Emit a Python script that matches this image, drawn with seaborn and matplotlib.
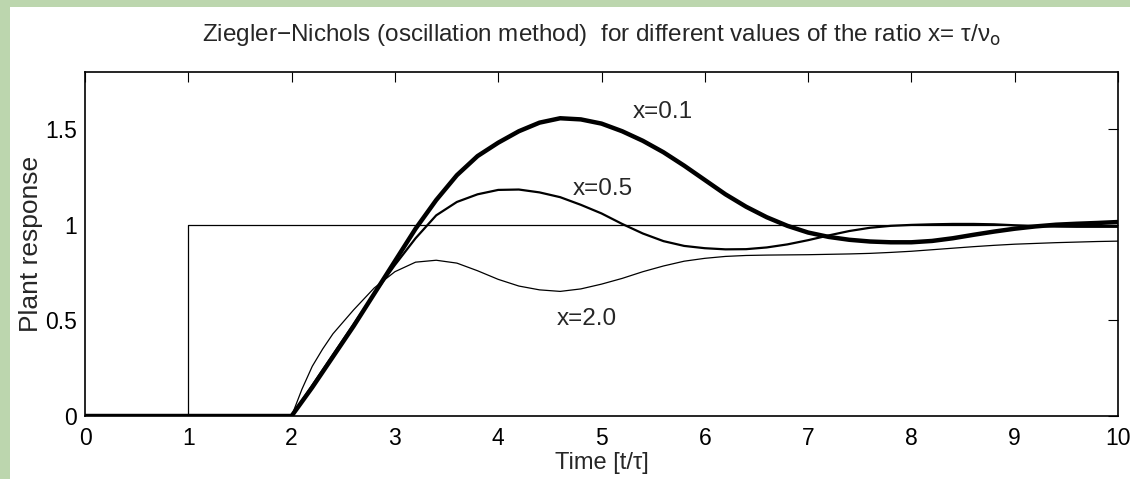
import numpy as np
import pandas as pd
import seaborn as sns
import matplotlib.pyplot as plt
from matplotlib.patches import Rectangle

# values
t = [0.0, 2.0, 2.1, 2.2, 2.3, 2.4, 2.6, 2.8, 3.0, 3.2, 3.4, 3.6, 3.8, 4.0, 4.2, 4.4, 4.6, 4.8,
     5.0, 5.2, 5.4, 5.6, 5.8, 6.0, 6.2, 6.4, 6.6, 6.8, 7.0, 7.2, 7.4, 7.6, 7.8,
     8.0, 8.2, 8.4, 8.6, 8.8, 9.0, 9.2, 9.4, 9.6, 9.8, 10.0]

x01 = [0.0, 0.0, 0.075, 0.15, 0.23, 0.31, 0.47, 0.64, 0.81, 0.98, 1.13, 1.26, 1.36, 1.43, 1.49, 1.535, 1.558, 1.552,
       1.53, 1.49, 1.44, 1.38, 1.31, 1.235, 1.16, 1.095, 1.04, 0.995, 0.96, 0.937, 0.922, 0.913, 0.909,
       0.909, 0.916, 0.93, 0.948, 0.965, 0.98, 0.992, 1.001, 1.006, 1.01, 1.015]

x05 = [0.0, 0.0, 0.08, 0.16, 0.24, 0.32, 0.48, 0.64, 0.79, 0.93, 1.05, 1.12, 1.16, 1.183, 1.185, 1.17, 1.145, 1.105,
       1.06, 1.005, 0.955, 0.915, 0.89, 0.878, 0.872, 0.873, 0.882, 0.898, 0.92, 0.945, 0.968, 0.985, 0.995,
       1.0, 1.003, 1.005, 1.005, 1.003, 0.998, 0.994, 0.991, 0.99, 0.99, 0.99]

x20 = [0.0, 0.0, 0.14, 0.26, 0.35, 0.43, 0.555, 0.67, 0.755, 0.805, 0.815, 0.80, 0.76, 0.715, 0.68, 0.66, 0.652, 0.665,
       0.69, 0.72, 0.755, 0.785, 0.81, 0.825, 0.835, 0.84, 0.842, 0.843, 0.844, 0.846, 0.848, 0.851, 0.856,
       0.862, 0.87, 0.878, 0.886, 0.893, 0.899, 0.903, 0.907, 0.91, 0.913, 0.915]

step_t = [0, 1, 10]
step_y = [0, 1, 1]

labels = ["x=0.1", "x=0.5", "x=2.0"]
label_pos = [(5.3, 1.59), (4.72, 1.19), (4.57, 0.51)]

df = pd.DataFrame({"t": t, "x=0.1": x01, "x=0.5": x05, "x=2.0": x20})

sns.set_style("white")
plt.rcParams['font.family'] = ['Liberation Sans', 'DejaVu Sans']

fig = plt.figure(figsize=(11.3, 4.79), dpi=100, facecolor="#bcd6ae")
bg = Rectangle((10 / 1130, 0), 1, 1 - 7 / 479, transform=fig.transFigure,
               facecolor="white", edgecolor="none", zorder=-10)
fig.add_artist(bg)
ax = fig.add_axes([85 / 1130, 1 - 416 / 479, 1033 / 1130, 344 / 479])
ax.set_zorder(1)

sns.lineplot(x=step_t, y=step_y, ax=ax, color="black", lw=0.9, drawstyle="steps-post")
sns.lineplot(data=df, x="t", y="x=2.0", ax=ax, color="black", lw=0.9, sort=False)
sns.lineplot(data=df, x="t", y="x=0.5", ax=ax, color="black", lw=1.6, sort=False)
sns.lineplot(data=df, x="t", y="x=0.1", ax=ax, color="black", lw=3.2, sort=False)

for lab, (lx, ly) in zip(labels, label_pos):
    ax.text(lx, ly, lab, fontsize=17.5, va="center", ha="left")

ax.set_xlim(0, 10)
ax.set_ylim(0, 1.8)
ax.set_xticks(range(0, 11))
ax.set_yticks([0, 0.5, 1, 1.5])
ax.set_yticklabels(["0", "0.5", "1", "1.5"])
ax.tick_params(direction="in", length=7, width=0.8, top=True, right=True,
               labelsize=16.5, colors="black")
ax.tick_params(axis="x", pad=8)
ax.tick_params(axis="y", pad=6)
for s in ax.spines.values():
    s.set_color("black")
    s.set_linewidth(1.2)

ax.set_xlabel("Time [t/τ]", fontsize=17, labelpad=1)
ax.set_ylabel("Plant response", fontsize=19, labelpad=1)
ax.set_title("Ziegler\u2212Nichols (oscillation method)  for different values of the ratio x= τ/ν$_\\mathrm{o}$",
             fontsize=17.5, pad=22)

fig.savefig("out.png", dpi=100, facecolor=fig.get_facecolor())
